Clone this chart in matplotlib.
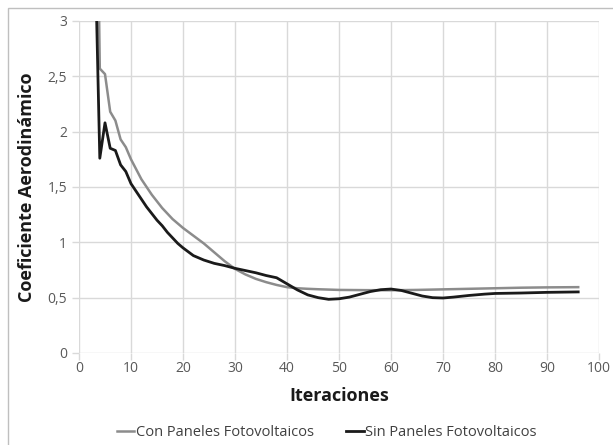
import matplotlib
matplotlib.use('Agg')
import matplotlib.pyplot as plt
from matplotlib.patches import Rectangle
from matplotlib.ticker import FuncFormatter

plt.rcParams['font.family'] = ['Open Sans', 'DejaVu Sans']

# Con Paneles Fotovoltaicos (gris)
iter_con = [3, 4, 5, 6, 7, 8, 9, 10, 11, 12, 13, 14, 15, 16, 17, 18, 19, 20,
            22, 24, 26, 28, 30, 32, 34, 36, 38, 40, 42, 44, 46, 48, 50,
            55, 60, 65, 70, 75, 80, 85, 90, 96]
coef_con = [6.0, 2.57, 2.52, 2.18, 2.10, 1.93, 1.86, 1.75, 1.66, 1.57, 1.50, 1.43, 1.37, 1.31, 1.26, 1.21, 1.17, 1.13,
            1.06, 0.99, 0.91, 0.83, 0.76, 0.71, 0.67, 0.64, 0.615, 0.595, 0.585, 0.58, 0.576, 0.573, 0.570,
            0.568, 0.567, 0.570, 0.575, 0.580, 0.585, 0.590, 0.593, 0.595]

# Sin Paneles Fotovoltaicos (negro)
iter_sin = [3, 4, 5, 6, 7, 8, 9, 10, 11, 12, 13, 14, 15, 16, 17, 18, 19, 20,
            22, 24, 26, 28, 30, 32, 34, 36, 38, 40, 42, 44, 46, 48, 50, 52, 54, 56, 58, 60,
            62, 64, 66, 68, 70, 72, 75, 78, 80, 85, 90, 96]
coef_sin = [3.83, 1.76, 2.08, 1.85, 1.83, 1.70, 1.64, 1.53, 1.46, 1.39, 1.32, 1.26, 1.20, 1.15, 1.09, 1.04, 0.99, 0.95,
            0.88, 0.84, 0.81, 0.79, 0.765, 0.745, 0.725, 0.70, 0.68, 0.625, 0.57, 0.525, 0.50, 0.485, 0.49, 0.505, 0.53, 0.555, 0.572, 0.578,
            0.565, 0.54, 0.515, 0.50, 0.497, 0.505, 0.52, 0.532, 0.538, 0.542, 0.548, 0.552]

x_ticks = [0, 10, 20, 30, 40, 50, 60, 70, 80, 90, 100]
y_ticks = [0, 0.5, 1, 1.5, 2, 2.5, 3]

fig = plt.figure(figsize=(6.13, 4.45), dpi=100)
ax = fig.add_axes([79 / 613, 1 - 353 / 445, 520 / 613, 332 / 445])

# marco exterior
fig.patches.append(Rectangle((8 / 613, -0.1), 1.2, 1 - 8 / 445 + 0.1, transform=fig.transFigure,
                             fill=False, edgecolor='#bfbfbf', linewidth=1))

ax.plot(iter_con, coef_con, color='#8c8c8c', linewidth=1.8, label='Con Paneles Fotovoltaicos')
ax.plot(iter_sin, coef_sin, color='#1a1a1a', linewidth=2.0, label='Sin Paneles Fotovoltaicos')

ax.set_xlim(0, 100)
ax.set_ylim(0, 3)
ax.set_xticks(x_ticks)
ax.set_yticks(y_ticks)
ax.yaxis.set_major_formatter(FuncFormatter(lambda v, p: ('%g' % v).replace('.', ',')))
ax.grid(True, color='#d9d9d9', linewidth=1)
ax.set_axisbelow(True)
for s in ax.spines.values():
    s.set_visible(False)
ax.tick_params(axis='both', colors='#d9d9d9', labelcolor='#595959', labelsize=10, length=5, width=1)
ax.tick_params(axis='x', pad=1)

ax.set_xlabel('Iteraciones', fontsize=13, fontweight='bold', color='#1a1a1a', labelpad=8)
ax.set_ylabel('Coeficiente Aerodinámico', fontsize=13, fontweight='bold', color='#1a1a1a', labelpad=8)

leg = fig.legend(loc='center', bbox_to_anchor=(0.533, 1 - 433 / 445), ncol=2, frameon=False,
                 fontsize=10.5, handlelength=1.2, handletextpad=0.1, columnspacing=2.2)
for t in leg.get_texts():
    t.set_color('#404040')

fig.savefig('out.png', dpi=100)
